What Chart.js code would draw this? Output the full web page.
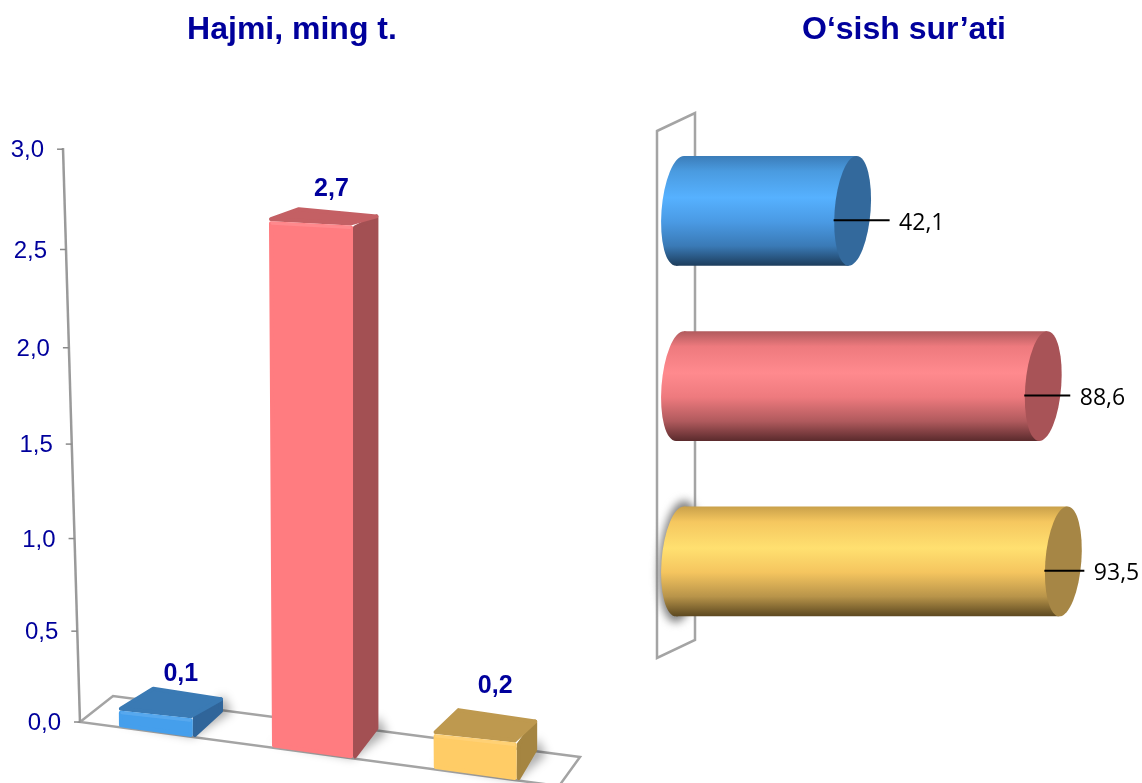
<!DOCTYPE html>
<html><head><meta charset="utf-8">
<style>
html,body{margin:0;padding:0;background:#fff;width:1142px;height:783px;overflow:hidden}
#wrap{position:relative;width:1142px;height:783px;overflow:hidden}
canvas{position:absolute;top:0}
</style>
<script src="https://cdn.jsdelivr.net/npm/chart.js@4"></script>
</head><body><div id="wrap">
<canvas id="left" width="584" height="783" style="left:0"></canvas>
<canvas id="right" width="528" height="783" style="left:640px"></canvas>
</div>
<script>
// ---- data ----
const categories = ['1', '2', '3'];
const volumeTitle = 'Hajmi, ming t.';
const growthTitle = 'O\u2018sish sur\u2019ati';
const volumeValues = [0.1, 2.7, 0.2];
const growthValues = [42.1, 88.6, 93.5];
const volumeTicks = [0, 0.5, 1, 1.5, 2, 2.5, 3];

// ---- styles ----
const NAVY = '#00009c', AXIS = '#a4a4a4';
const faceColors = [
  {front:'#459fec', top:'#3a7ab4', side:'#30659a'},
  {front:'#ff7c80', top:'#c46064', side:'#a35053'},
  {front:'#ffcc66', top:'#be994f', side:'#a58541'}
];
const tubeStops = [
  ['#3b7cb8','#4a9be0','#56b1ff','#4a9ae4','#3a7ab6','#1d3d5c'],
  ['#b05a5d','#ee7a7e','#ff8a8e','#ee7a7e','#b05a5d','#5a2a2c'],
  ['#c9a04a','#f5c75f','#ffe070','#f5c55f','#b8944a','#5c4820']
];
const tubeEnds = ['#33699c','#a85357','#a68645'];
const widthFactor = [0.89, 1, 1];
const xShift = [0, -4, 0];
const depthRise = [24, 14, 26];
const labelShift = [[25,13],[20,18],[20,22]];
const leaderLen = [37,27,21];
const comma = (v, d=1) => v.toFixed(d).replace('.', ',');
const axisX = y => 63 + (y-148)*17/574;

// Value axis of the left chart: slight perspective, wider at the top, leaning with the wall.
class WallScale extends Chart.LinearScale {
  static id = 'wall';
  static defaults = {};
  getPixelForValue(v){
    if (v === null || v === undefined) return NaN;
    const d = (v-this.min)/(this.max-this.min), c = 0.0576;
    return this.bottom - (this.bottom-this.top)*d*(1-c)/(1-c*d);
  }
  _computeLabelItems(area){
    const items = super._computeLabelItems(area);
    items.forEach(it => {
      const t = it.options.translation;
      t[0] = axisX(t[1]) - 19; t[1] += 1.5;
      it.options.textAlign='right';
    });
    return items;
  }
}
Chart.register(WallScale);

function poly(ctx, pts){ ctx.beginPath(); pts.forEach((p,i)=> i?ctx.lineTo(p[0],p[1]):ctx.moveTo(p[0],p[1])); ctx.closePath(); }

const boxes3d = {
  id:'boxes3d',
  beforeDatasetDraw(){ return false; },
  afterDatasetsDraw(chart){
    const ctx = chart.ctx, y = chart.scales.y, floor = x => 722 + 0.133*(x-80);
    ctx.save();
    ctx.strokeStyle = AXIS; ctx.lineWidth = 2.5; ctx.lineJoin='miter';
    poly(ctx,[[80,722],[113,696],[580,757],[559,786]]); ctx.stroke();
    ctx.strokeStyle = '#9a9a9a';
    ctx.beginPath(); ctx.moveTo(axisX(148),148); ctx.lineTo(80,723); ctx.stroke();
    ctx.strokeStyle = '#8a8a8a'; ctx.lineWidth = 1.5;
    y.ticks.forEach(t => { const p = y.getPixelForValue(t.value), a = axisX(p);
      ctx.beginPath(); ctx.moveTo(a-6,p); ctx.lineTo(a,p); ctx.stroke(); });

    chart.getDatasetMeta(0).data.forEach((el,i)=>{
      const v = volumeValues[i], c = faceColors[i], cx = el.x+xShift[i];
      const w = el.width*widthFactor[i], xl = cx-w/2, xr = cx+w/2;
      const h = (el.base-el.y)*1.04, lean = v/2.7;
      const blx = xl+2*lean;
      const bl=[blx,floor(blx)], br=[xr,floor(xr)];
      const tr=[xr, br[1]-h];
      const slope = 0.105-0.02*v;
      const tl=[xl-lean, tr[1]-slope*w];
      const dL = 36-0.03*xl, dR = 36-0.03*xr, rise = depthRise[i];
      const btl=[tl[0]+dL, tl[1]-rise], btr=[tr[0]+dR, tr[1]-rise+3];
      const bbr=[br[0]+dR, br[1]-28];
      ctx.save();
      ctx.filter='blur(5px)'; ctx.fillStyle='rgba(0,0,0,0.32)';
      poly(ctx,[[bl[0]-3,bl[1]-6],[br[0],br[1]],[bbr[0]+9,bbr[1]+3],[bbr[0],bbr[1]-14],[br[0],br[1]-10]]); ctx.fill();
      ctx.restore();
      // faces: inset polygon + thick round stroke = softly rounded corners
      const inset = (pts,k)=>{ const mx=pts.reduce((a,p)=>a+p[0],0)/pts.length, my=pts.reduce((a,p)=>a+p[1],0)/pts.length;
        return pts.map(p=>[p[0]-Math.sign(p[0]-mx)*k, p[1]-Math.sign(p[1]-my)*k]); };
      ctx.lineJoin='round'; ctx.lineWidth=4;
      const face=(pts,col)=>{ const q=inset(pts,2); ctx.fillStyle=col;ctx.strokeStyle=col;poly(ctx,q);ctx.fill();ctx.stroke();};
      face([tr,btr,bbr,br],c.side);
      face([tl,btl,btr,tr],c.top);
      face([tl,tr,br,bl],c.front);
      ctx.strokeStyle='rgba(255,255,255,0.1)'; ctx.lineWidth=3; ctx.lineCap='round';
      ctx.beginPath(); ctx.moveTo(tl[0]+3,tl[1]+2); ctx.lineTo(tr[0]-3,tr[1]+2); ctx.stroke();
      ctx.fillStyle=NAVY; ctx.font='bold 25px "Liberation Sans", Arial'; ctx.textAlign='center'; ctx.textBaseline='middle';
      ctx.fillText(comma(v), cx+labelShift[i][0], btl[1]-labelShift[i][1]);
    });
    ctx.restore();
  }
};

const tubes3d = {
  id:'tubes3d',
  beforeDatasetDraw(){ return false; },
  afterDatasetsDraw(chart){
    const ctx = chart.ctx, lean=4/55;
    const ell=(cx,cy,rx,ry,fill)=>{ ctx.save(); ctx.transform(1,0,-lean,1,cx,cy); ctx.beginPath(); ctx.ellipse(0,0,rx,ry,0,0,Math.PI*2); ctx.restore(); ctx.fillStyle=fill; ctx.fill(); };
    const x0 = chart.scales.x.getPixelForValue(0);
    ctx.save();
    ctx.strokeStyle=AXIS; ctx.lineWidth=2.5;
    poly(ctx,[[17,131],[55,113],[55,640],[17,658]]); ctx.stroke();
    chart.getDatasetMeta(0).data.forEach((el,i)=>{
      const cy=el.y, ry=el.height/2, xe=el.x;
      const g=ctx.createLinearGradient(0,cy-ry,0,cy+ry);
      const s=tubeStops[i]; [0,0.14,0.38,0.6,0.82,1].forEach((o,k)=>g.addColorStop(o,s[k]));
      if(i===2){ ctx.save(); ctx.filter='blur(4px)'; ell(x0,cy,21,ry+6,'#808080'); ctx.restore(); }
      ell(x0,cy,18.5,ry,g);
      ctx.fillStyle=g;
      poly(ctx,[[x0+4,cy-ry],[xe+4,cy-ry],[xe-4,cy+ry],[x0-4,cy+ry]]); ctx.fill();
      ell(xe,cy,18,ry,tubeEnds[i]);
      const ly=cy+9.5;
      ctx.strokeStyle='#000'; ctx.lineWidth=2;
      ctx.beginPath(); ctx.moveTo(xe-19,ly); ctx.lineTo(xe+leaderLen[i],ly); ctx.stroke();
      ctx.fillStyle='#000'; ctx.font='23px "Open Sans"'; ctx.textAlign='left'; ctx.textBaseline='middle';
      ctx.fillText(comma(growthValues[i]), xe+leaderLen[i]+9.5, ly+3);
    });
    ctx.restore();
  }
};

const blankAxis = w => ({position:'right',type:'linear',display:true,afterFit(s){s.width=w;},
  border:{display:false},grid:{display:false,drawTicks:false},ticks:{display:false}});

new Chart(document.getElementById('left'),{
  type:'bar',
  data:{labels:categories,datasets:[{data:volumeValues,backgroundColor:faceColors.map(c=>c.front),categoryPercentage:0.52,barPercentage:1}]},
  plugins:[boxes3d],
  options:{
    responsive:false,animation:false,
    layout:{padding:{bottom:61}},
    plugins:{legend:{display:false},tooltip:{enabled:false},
      title:{display:true,text:volumeTitle,color:NAVY,font:{family:'"Liberation Sans", Arial',size:32,weight:'bold'},padding:{top:10.5,bottom:100.3}}},
    scales:{
      x:{display:false},
      y:{type:'wall',min:0,max:3,afterFit(s){s.width=76;},
        afterBuildTicks(s){s.ticks=volumeTicks.map(value=>({value}));},
        border:{display:false},grid:{display:false,drawTicks:false},
        ticks:{color:NAVY,font:{family:'"Liberation Sans", Arial',size:24},padding:0,callback:v=>comma(v)}},
      yRight:blankAxis(29)
    }
  }
});

new Chart(document.getElementById('right'),{
  type:'bar',
  data:{labels:categories,datasets:[{data:growthValues,backgroundColor:faceColors.map(c=>c.front),categoryPercentage:0.627,barPercentage:1}]},
  plugins:[tubes3d],
  options:{
    indexAxis:'y',responsive:false,animation:false,
    layout:{padding:{bottom:134}},
    plugins:{legend:{display:false},tooltip:{enabled:false},
      title:{display:true,text:growthTitle,color:NAVY,font:{family:'"Liberation Sans", Arial',size:32,weight:'bold'},padding:{top:10.5,bottom:74.3}}},
    scales:{
      x:{display:false,min:0,max:100},
      y:{display:true,afterFit(s){s.width=40;},border:{display:false},grid:{display:false,drawTicks:false},ticks:{display:false}},
      yRight:blankAxis(78)
    }
  }
});
</script></body></html>
